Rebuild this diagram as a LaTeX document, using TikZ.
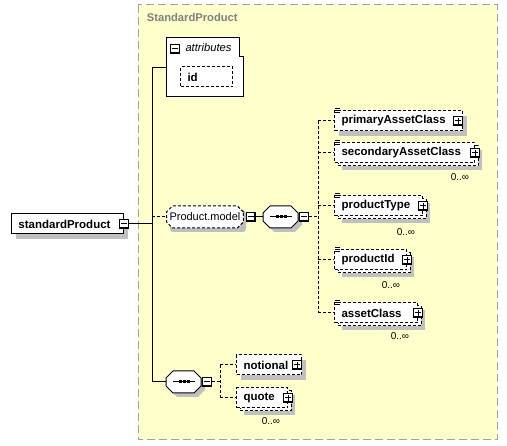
\documentclass[tikz,border=0pt]{standalone}
\usepackage{fontspec}
\setmainfont{Liberation Sans}
\usetikzlibrary{shapes.misc}

\definecolor{boxyellow}{HTML}{FFFFCC}
\definecolor{framegray}{HTML}{A0A0A0}
\definecolor{shadowgray}{HTML}{C0C0C0}
\definecolor{titlegray}{HTML}{808080}

\begin{document}
\begin{tikzpicture}[x=1pt, y=-1pt, line width=1pt,
    dash line/.style={dash pattern=on 3pt off 2pt},
    elem/.style={draw, fill=white, dash line, anchor=west, minimum height=20pt,
        inner xsep=7pt, inner ysep=0pt, text width=#1, align=left,
        font=\fontsize{11.5}{13}\selectfont\bfseries},
    group/.style={draw, fill=white, dash line, chamfered rectangle,
        chamfered rectangle xsep=3pt, chamfered rectangle ysep=3pt, inner xsep=0pt,
        minimum height=22pt, anchor=west, font=\fontsize{11}{13}\selectfont},
    seq/.style={inner sep=0pt, minimum width=35pt, minimum height=22pt, anchor=west},
    btn/.style={draw, fill=white, minimum size=9pt, inner sep=0pt},
    collapsebox/.style={btn, path picture={
        \draw[line width=2pt] (path picture bounding box.north east) -- (path picture bounding box.south east) -- (path picture bounding box.south west);
        \draw ([xshift=-3pt]path picture bounding box.center) -- ([xshift=3pt]path picture bounding box.center);}},
    expandbox/.style={btn, path picture={
        \draw[line width=2pt] (path picture bounding box.north east) -- (path picture bounding box.south east) -- (path picture bounding box.south west);
        \draw ([xshift=-3pt]path picture bounding box.center) -- ([xshift=3pt]path picture bounding box.center)
              ([yshift=-3pt]path picture bounding box.center) -- ([yshift=3pt]path picture bounding box.center);}},
    mult/.style={font=\fontsize{10}{12}\selectfont, inner sep=0pt}]

    \useasboundingbox[fill=white] (0,0) rectangle (507,446);

    % Declare the complex type frame
    \draw[framegray, fill=boxyellow, dash pattern=on 8pt off 4pt] (138,5) rectangle (497,440);
    \node[anchor=west, text=titlegray, font=\fontsize{11.2}{13}\selectfont\bfseries] (title) at (143,18) {StandardProduct};

    % Shadows of the boxes
    \foreach \xa/\ya/\xb/\yb in {16/219/128/239, 185/72/237/92, 339/116/467/136, 241/360/306/380,
            342/150/482/170, 342/203/430/223, 342/257/414/277, 342/310/425/330, 244/395/295/415}
        \fill[shadowgray] (\xa,\ya) rectangle (\xb,\yb);
    \fill[shadowgray, rounded corners=3pt] (170,210) rectangle (246,232);

    % Repeated copies behind the 0..oo elements
    \foreach \xa/\ya/\xb/\yb in {338/146/478/166, 338/199/426/219, 338/253/410/273, 338/306/421/326, 240/391/291/411}
        \draw[dash line, fill=white] (\xa,\ya) rectangle (\xb,\yb);

    % Declare the attributes
    \draw[fill=white] (166,38) -| (239,57) -| (243,97) -- (166,97) -- cycle;
    \coordinate (attrsIn) at (166,68);
    \node[collapsebox] (attrsBtn) at (175,49) {};
    \node[anchor=west, inner sep=0pt, font=\fontsize{11.2}{13}\selectfont\itshape] (attrsLabel) at (185,48) {attributes};
    \node[elem=38pt] (id) at (180,77) {id};

    % Declare the root element
    \node[elem=98pt, solid] (sp) at (11,224) {standardProduct};
    \node[collapsebox] (spBtn) at (sp.east) {};

    % Declare the model group
    \node[group, minimum width=76pt] (model) at (166,217) {Product.model};
    \node[collapsebox] (modelBtn) at ([xshift=7pt]model.east) {};
    \node[seq] (seqA) at (263,217) {};

    % Declare the model children
    \node[elem=114pt] (pac) at (334,121) {primaryAssetClass};
    \node[expandbox] (pacBtn) at ([xshift=-5pt]pac.east) {};
    \node[elem=126pt] (sac) at (334,153) {secondaryAssetClass};
    \node[expandbox] (sacBtn) at (sac.east) {};
    \node[elem=74pt] (ptype) at (334,206) {productType};
    \node[expandbox] (ptypeBtn) at (ptype.east) {};
    \node[elem=58pt] (pid) at (334,260) {productId};
    \node[expandbox] (pidBtn) at (pid.east) {};
    \node[elem=69pt] (acls) at (334,313) {assetClass};
    \node[expandbox] (aclsBtn) at (acls.east) {};

    \node[mult] (sacMult) at (460,177) {0..∞};
    \node[mult] (ptypeMult) at (406,232) {0..∞};
    \node[mult] (pidMult) at (391,285) {0..∞};
    \node[mult] (aclsMult) at (400,336) {0..∞};

    % Declare the second sequence
    \node[seq] (seqB) at (166,382) {};
    \node[elem=51pt] (notional) at (236,365) {notional};
    \node[expandbox] (notionalBtn) at ([xshift=-5pt]notional.east) {};
    \node[elem=37pt] (quote) at (236,398) {quote};
    \node[expandbox] (quoteBtn) at (quote.east) {};
    \node[mult] (quoteMult) at (271,421) {0..∞};

    % Sequence shapes and symbols
    \foreach \s/\x/\y in {seqA/263/217, seqB/166/382} {
        \fill[shadowgray, shift={(\x+4,\y+4)}] (7,-11) -- (28,-11) -- (35,-4) -- (35,4)
            -- (28,11) -- (7,11) -- (0,4) -- (0,-4) -- cycle;
        \draw[fill=white, shift={(\x,\y)}] (7,-11) -- (28,-11) -- (35,-4) -- (35,4)
            -- (28,11) -- (7,11) -- (0,4) -- (0,-4) -- cycle;
        \draw (\s.center) +(-11,0) -- +(11,0);
        \foreach \dx in {-4,0,4}
            \fill ([xshift=\dx pt]\s.center) +(-1.5,-1.5) rectangle +(1.5,1.5);
    }
    \node[collapsebox] (seqABtn) at ([xshift=5pt]seqA.east) {};
    \node[collapsebox] (seqBBtn) at ([xshift=5pt]seqB.east) {};

    % Element icons
    \foreach \n in {pac,sac,ptype,pid,acls}
        \foreach \dy in {2,0,-2}
            \draw[line width=0.7pt] ([xshift=1pt, yshift=\dy pt]\n.north west) -- ++(5,0);

    % Declare edges
    \coordinate (trunk) at (152,68);
    \coordinate (railA) at (318,121);
    \coordinate (railB) at (220,365);
    \draw (attrsIn) -- (trunk) -- (trunk |- seqB.west) -- (seqB.west);
    \draw (spBtn.east) -- (spBtn.east -| trunk);
    \draw[dash line] (model.west -| trunk) -- (model.west);
    \draw (modelBtn.east) -- (seqA.west);
    \draw[dash line] (seqABtn.east) -- (seqABtn.east -| railA);
    \draw[dash line] (railA |- pac.west) -- (railA |- acls.west);
    \foreach \n in {pac,sac,ptype,pid,acls}
        \draw[dash line] (railA |- \n.west) -- (\n.west);
    \draw[dash line] (seqBBtn.east) -- (seqBBtn.east -| railB);
    \draw[dash line] (railB |- notional.west) -- (railB |- quote.west);
    \foreach \n in {notional,quote}
        \draw[dash line] (railB |- \n.west) -- (\n.west);

\end{tikzpicture}
\end{document}
